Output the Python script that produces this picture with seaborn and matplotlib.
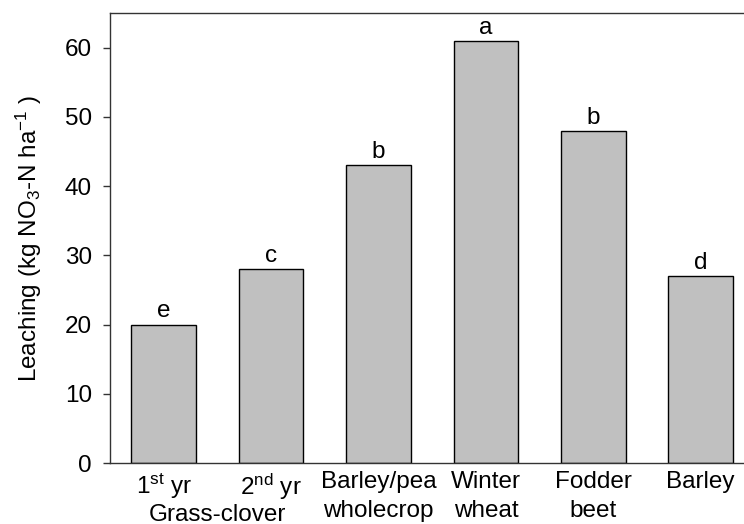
import pandas as pd
import matplotlib
matplotlib.use("Agg")
import matplotlib.pyplot as plt
import seaborn as sns

crops = ["1st yr", "2nd yr", "Barley/pea wholecrop", "Winter wheat", "Fodder beet", "Barley"]
tick_labels = ["1$^{st}$ yr", "2$^{nd}$ yr", "Barley/pea\nwholecrop", "Winter\nwheat", "Fodder\nbeet", "Barley"]
leaching = [20, 28, 43, 61, 48, 27]
letters = ["e", "c", "b", "a", "b", "d"]

sns.set_theme(style="ticks")
plt.rcParams["font.family"] = ["Liberation Sans", "DejaVu Sans"]
plt.rcParams["mathtext.fontset"] = "custom"
plt.rcParams["mathtext.rm"] = "Liberation Sans"
plt.rcParams["mathtext.it"] = "Liberation Sans"
plt.rcParams["text.color"] = "black"
plt.rcParams["axes.labelcolor"] = "black"
plt.rcParams["xtick.color"] = "black"
plt.rcParams["ytick.color"] = "black"

FS = 17.5

df = pd.DataFrame({"crop": crops, "leaching": leaching})

W, H = 744, 524
fig = plt.figure(figsize=(W / 100, H / 100), dpi=100)
ax = fig.add_axes([110 / W, (H - 463) / H, 644.4 / W, 450 / H])

sns.barplot(data=df, x="crop", y="leaching", color="#c0c0c0", saturation=1,
            edgecolor="black", linewidth=1, width=0.6, ax=ax)

for i, (v, s) in enumerate(zip(leaching, letters)):
    ax.text(i, v + 0.3, s, ha="center", va="bottom", fontsize=FS)

ax.set_xlim(-0.5, 5.5)
ax.set_ylim(0, 65)
ax.set_yticks(range(0, 61, 10))
ax.set_xticks(range(len(crops)))
ax.set_xticklabels(tick_labels, fontsize=FS, linespacing=1.4)
ax.tick_params(axis="y", labelsize=FS, length=5, width=1, direction="out", color="#333333", pad=8)
ax.tick_params(axis="x", length=0, pad=6)
ax.text(0.5, -8.4, "Grass-clover", ha="center", va="baseline", fontsize=FS)

ax.set_xlabel("")
ax.set_ylabel("Leaching (kg NO$_3$-N ha$^{-1}$ )", fontsize=FS, labelpad=15)

for side in ["left", "bottom", "top", "right"]:
    ax.spines[side].set_visible(True)
    ax.spines[side].set_color("#333333")
    ax.spines[side].set_linewidth(1)

fig.savefig("out.png", dpi=100)
